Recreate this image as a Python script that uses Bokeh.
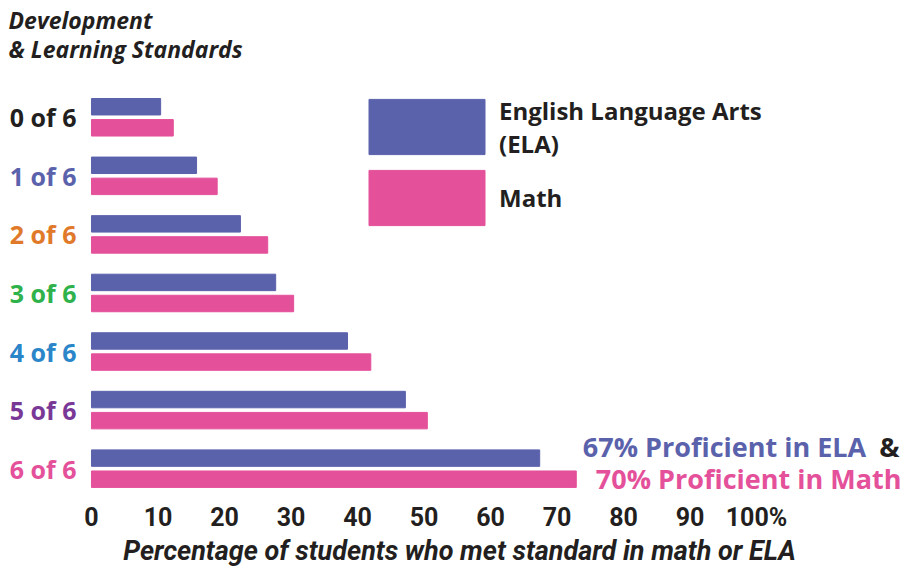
from bokeh.plotting import figure
from bokeh.models import Range1d, FixedTicker, Legend, LegendItem, Label, ColumnDataSource, Title
from bokeh.core.properties import value
from bokeh.transform import dodge
from bokeh.embed import file_html
from bokeh.resources import INLINE

# ---- data ----
levels = ["0 of 6", "1 of 6", "2 of 6", "3 of 6", "4 of 6", "5 of 6", "6 of 6"]
level_colors = ["#231f20", "#5b62ac", "#e07a2a", "#2fb24c", "#2b86c9", "#7a3896", "#e4509a"]
ela = [10.4, 15.8, 22.4, 27.7, 38.5, 47.2, 67.4]
math = [12.3, 18.9, 26.5, 30.4, 42.0, 50.5, 72.9]
tick_values = [0, 10, 20, 30, 40, 50, 60, 70, 80, 90, 100]
tick_labels = ["0", "10", "20", "30", "40", "50", "60", "70", "80", "90", "100%"]

ELA_COLOR = "#5b62ac"
MATH_COLOR = "#e4509a"
INK = "#231f20"
FONT = "Open Sans"

src = ColumnDataSource(dict(row=list(range(len(levels))), level=levels,
                            color=level_colors, ela=ela, math=math))

p = figure(width=918, height=569, output_backend="svg", toolbar_location=None,
           x_range=Range1d(-13.68, 124.36), y_range=Range1d(6.390, -0.867),
           min_border_left=0, min_border_right=0, min_border_top=66,
           min_border_bottom=77)
p.outline_line_color = None
p.xgrid.visible = False
p.ygrid.visible = False
p.yaxis.visible = False

r_ela = p.hbar(y=dodge("row", -0.18), left=0, right="ela", height=0.281,
               color=ELA_COLOR, source=src)
r_math = p.hbar(y=dodge("row", 0.18), left=0, right="math", height=0.281,
                color=MATH_COLOR, source=src)

p.text(x=0, y="row", text="level", text_color="color", x_offset=-15,
       text_align="right", text_baseline="middle", text_font=value(FONT),
       text_font_style="bold", text_font_size="25px", source=src)

ax = p.xaxis[0]
ax.ticker = FixedTicker(ticks=tick_values)
ax.major_label_overrides = {v: l for v, l in zip(tick_values, tick_labels)}
ax.axis_line_color = None
ax.major_tick_line_color = None
ax.minor_tick_line_color = None
ax.major_tick_out = 0
ax.major_tick_in = 0
ax.minor_tick_out = 0
ax.minor_tick_in = 0
ax.major_label_text_font = "Roboto"
ax.major_label_text_font_style = "bold"
ax.major_label_text_font_size = "25px"
ax.major_label_text_color = INK
ax.major_label_standoff = 11
ax.axis_label = "Percentage of students who met standard in math or ELA"
ax.axis_label_text_font = "Roboto"
ax.axis_label_text_font_style = "bold italic"
ax.axis_label_text_font_size = "27px"
ax.axis_label_text_color = INK
ax.axis_label_standoff = 0

p.title = Title(text="Development\n& Learning Standards", align="left",
                text_font=FONT, text_font_style="bold italic",
                text_font_size="23px", text_color=INK, offset=8, standoff=2,
                text_line_height=0.93)

legend = Legend(items=[LegendItem(label="English Language Arts\n(ELA)", renderers=[r_ela]),
                       LegendItem(label="Math", renderers=[r_math])],
                location=(354, 259), glyph_width=145, glyph_height=69,
                spacing=2, padding=0, margin=0, border_line_color=None,
                background_fill_alpha=0, label_text_font=FONT,
                label_text_font_style="bold", label_text_font_size="24px",
                label_text_color=INK, label_standoff=0,
                label_text_line_height=0.9)
p.add_layout(legend)

p.add_layout(Label(x=116.5, y=5.63, text="67% Proficient in ELA", text_align="right",
                   text_baseline="middle", text_font=FONT, text_font_style="bold",
                   text_font_size="27px", text_color=ELA_COLOR))
p.add_layout(Label(x=121.5, y=5.63, text="&", text_align="right",
                   text_baseline="middle", text_font=FONT, text_font_style="bold",
                   text_font_size="27px", text_color=INK))
p.add_layout(Label(x=121.8, y=6.17, text="70% Proficient in Math", text_align="right",
                   text_baseline="middle", text_font=FONT, text_font_style="bold",
                   text_font_size="27px", text_color=MATH_COLOR))

open("out.html", "w").write(file_html(p, INLINE))
